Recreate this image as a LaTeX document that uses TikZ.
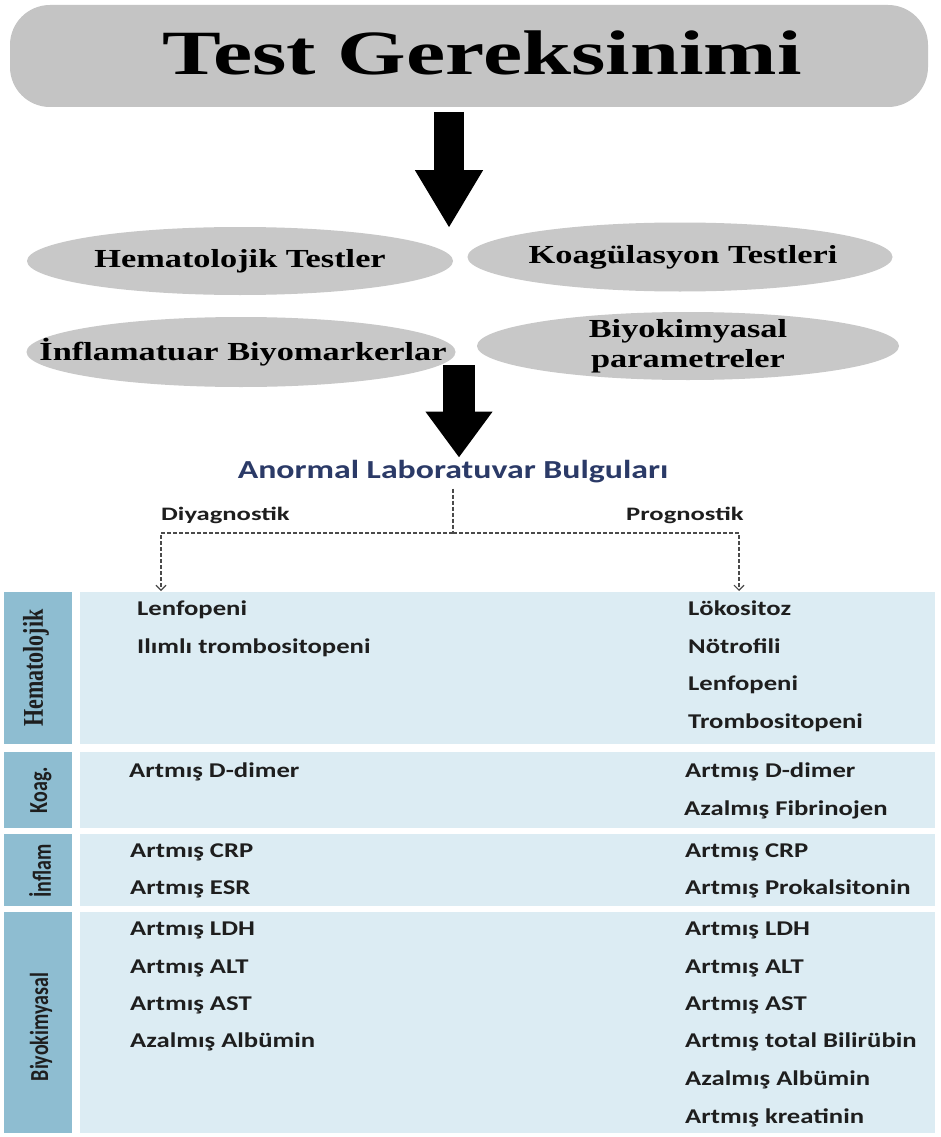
\documentclass[tikz,border=0pt]{standalone}
\usepackage{fontspec}
\setmainfont{Liberation Serif}
\newfontfamily\calfont{Carlito}
\usepackage{graphicx}
\usepackage{xcolor}
\usetikzlibrary{arrows.meta,shapes.geometric}

\definecolor{boxgray}{HTML}{C4C4C4}
\definecolor{ovalgray}{HTML}{C8C8C8}
\definecolor{headblue}{HTML}{2B3A67}
\definecolor{tabside}{HTML}{8EBDD1}
\definecolor{tabbody}{HTML}{DCECF3}
\definecolor{dashgray}{HTML}{4A4A4A}
\definecolor{ink}{HTML}{1E1E1E}

\newcommand{\wider}[2]{\scalebox{#1}[1]{#2}}
\newcommand{\taller}[1]{\scalebox{1}[1.3]{#1}}
\newcommand{\entry}[1]{\scalebox{1.27}[1]{#1}}

\tikzset{
  titlebox/.style={rectangle, rounded corners=40pt, fill=boxgray, minimum width=918pt, minimum height=102pt, inner sep=0pt},
  titletext/.style={font=\bfseries\fontsize{63}{63}\selectfont, anchor=base, inner sep=0pt},
  blob/.style={ellipse, fill=ovalgray, inner sep=0pt},
  blobtext/.style={font=\bfseries\fontsize{26}{30}\selectfont, align=center, inner sep=0pt},
  blockarrow/.style 2 args={line width=#1, -{Triangle[length=#2 0 0, width=64pt 0 0]}},
  findings/.style={font=\calfont\bfseries\fontsize{26}{26}\selectfont, text=headblue, anchor=base, inner sep=2pt},
  branch/.style={font=\calfont\bfseries\fontsize{19}{19}\selectfont, text=ink, anchor=base west, inner sep=0pt},
  dashline/.style={dashgray, line width=1.1pt, dash pattern=on 4pt off 2pt},
  sidelabel/.style={font=\calfont\bfseries\fontsize{20}{20}\selectfont, text=ink, rotate=90, inner sep=0pt},
  item/.style={font=\calfont\bfseries\fontsize{21}{21}\selectfont, text=ink, anchor=base west, inner sep=0pt}
}

\begin{document}
\begin{tikzpicture}[x=1pt,y=-1pt]
\path[use as bounding box, fill=white] (0,0) rectangle (940,1137);

\node[titlebox] (box) at (469,56) {};
\node[titletext] (title) at (482,75) {\wider{1.4}{Test Gereksinimi}};

\node[blob, minimum width=426pt, minimum height=68pt] (hemat) at (240,261) {};
\node[blob, minimum width=425pt, minimum height=69pt] (koag) at (680,257) {};
\node[blob, minimum width=429pt, minimum height=70pt] (inflam) at (241,352) {};
\node[blob, minimum width=422pt, minimum height=68pt] (biyo) at (688,346) {};
\node[blobtext] (hemattxt) at (hemat) {\wider{1.32}{Hematolojik Testler}};
\node[blobtext] (koagtxt) at (683,257) {\wider{1.32}{Koagülasyon Testleri}};
\node[blobtext] (inflamtxt) at (243,352) {\wider{1.32}{İnflamatuar Biyomarkerlar}};
\node[blobtext] (biyotxt) at (biyo) {\wider{1.32}{Biyokimyasal}\\\wider{1.32}{parametreler}};

\coordinate (a1top) at (449,112);
\coordinate (a1tip) at (449,228);
\draw[blockarrow={30pt}{58pt}] (a1top) -- (a1tip);

\node[findings] (bulgu) at (453,478) {\wider{1.3}{Anormal Laboratuvar Bulguları}};
\coordinate (a2top) at (459,365);
\draw[blockarrow={32pt}{46pt}] (a2top) -- (a2top |- bulgu.north);

\node[branch] (diag) at (161,520) {\wider{1.4}{Diyagnostik}};
\node[branch] (prog) at (626,520) {\wider{1.4}{Prognostik}};
\coordinate (split) at (453,533);
\coordinate (dtip) at (161,591);
\coordinate (ptip) at (739,591);
\draw[dashline] ([yshift=-4pt]bulgu.south) -- (split);
\draw[dashline, -{Straight Barb[length=5pt,width=10pt]}] (split) -| (dtip);
\draw[dashline, -{Straight Barb[length=5pt,width=10pt]}] (split) -| (ptip);

\fill[tabside] (4,592) rectangle (72,744);
\fill[tabbody] (80,592) rectangle (935,744);
\fill[tabside] (4,752) rectangle (72,828);
\fill[tabbody] (80,752) rectangle (935,828);
\fill[tabside] (4,834) rectangle (72,906);
\fill[tabbody] (80,834) rectangle (935,906);
\fill[tabside] (4,912) rectangle (72,1133);
\fill[tabbody] (80,912) rectangle (935,1133);

\node[sidelabel, font=\bfseries\fontsize{22}{22}\selectfont] (hemlab) at (36,668) {\taller{Hematolojik}};
\node[sidelabel] (koaglab) at (41,790) {\taller{Koag.}};
\node[sidelabel] (inflab) at (40,871) {\taller{İnflam}};
\node[sidelabel] (biyolab) at (41,1027) {\taller{Biyokimyasal}};

\node[item] (dLenf) at (137,615) {\entry{Lenfopeni}};
\node[item] (dTromb) at (137,653) {\entry{Ilımlı trombositopeni}};
\node[item] (pLok) at (688,615) {\entry{Lökositoz}};
\node[item] (pNot) at (688,653) {\entry{Nötrofili}};
\node[item] (pLenf) at (688,690) {\entry{Lenfopeni}};
\node[item] (pTromb) at (688,728) {\entry{Trombositopeni}};

\node[item] (dDdim) at (129,777) {\entry{Artmış D-dimer}};
\node[item] (pDdim) at (685,777) {\entry{Artmış D-dimer}};
\node[item] (pFib) at (684,815) {\entry{Azalmış Fibrinojen}};

\node[item] (dCrp) at (130,857) {\entry{Artmış CRP}};
\node[item] (dEsr) at (130,894) {\entry{Artmış ESR}};
\node[item] (pCrp) at (685,857) {\entry{Artmış CRP}};
\node[item] (pProk) at (685,894) {\entry{Artmış Prokalsitonin}};

\node[item] (dLdh) at (130,935) {\entry{Artmış LDH}};
\node[item] (dAlt) at (130,973) {\entry{Artmış ALT}};
\node[item] (dAst) at (130,1010) {\entry{Artmış AST}};
\node[item] (dAlb) at (130,1047) {\entry{Azalmış Albümin}};
\node[item] (pLdh) at (685,935) {\entry{Artmış LDH}};
\node[item] (pAlt) at (685,973) {\entry{Artmış ALT}};
\node[item] (pAst) at (685,1010) {\entry{Artmış AST}};
\node[item] (pBil) at (685,1047) {\entry{Artmış total Bilirübin}};
\node[item] (pAlb) at (685,1085) {\entry{Azalmış Albümin}};
\node[item] (pKre) at (685,1123) {\entry{Artmış kreatinin}};
\end{tikzpicture}
\end{document}
